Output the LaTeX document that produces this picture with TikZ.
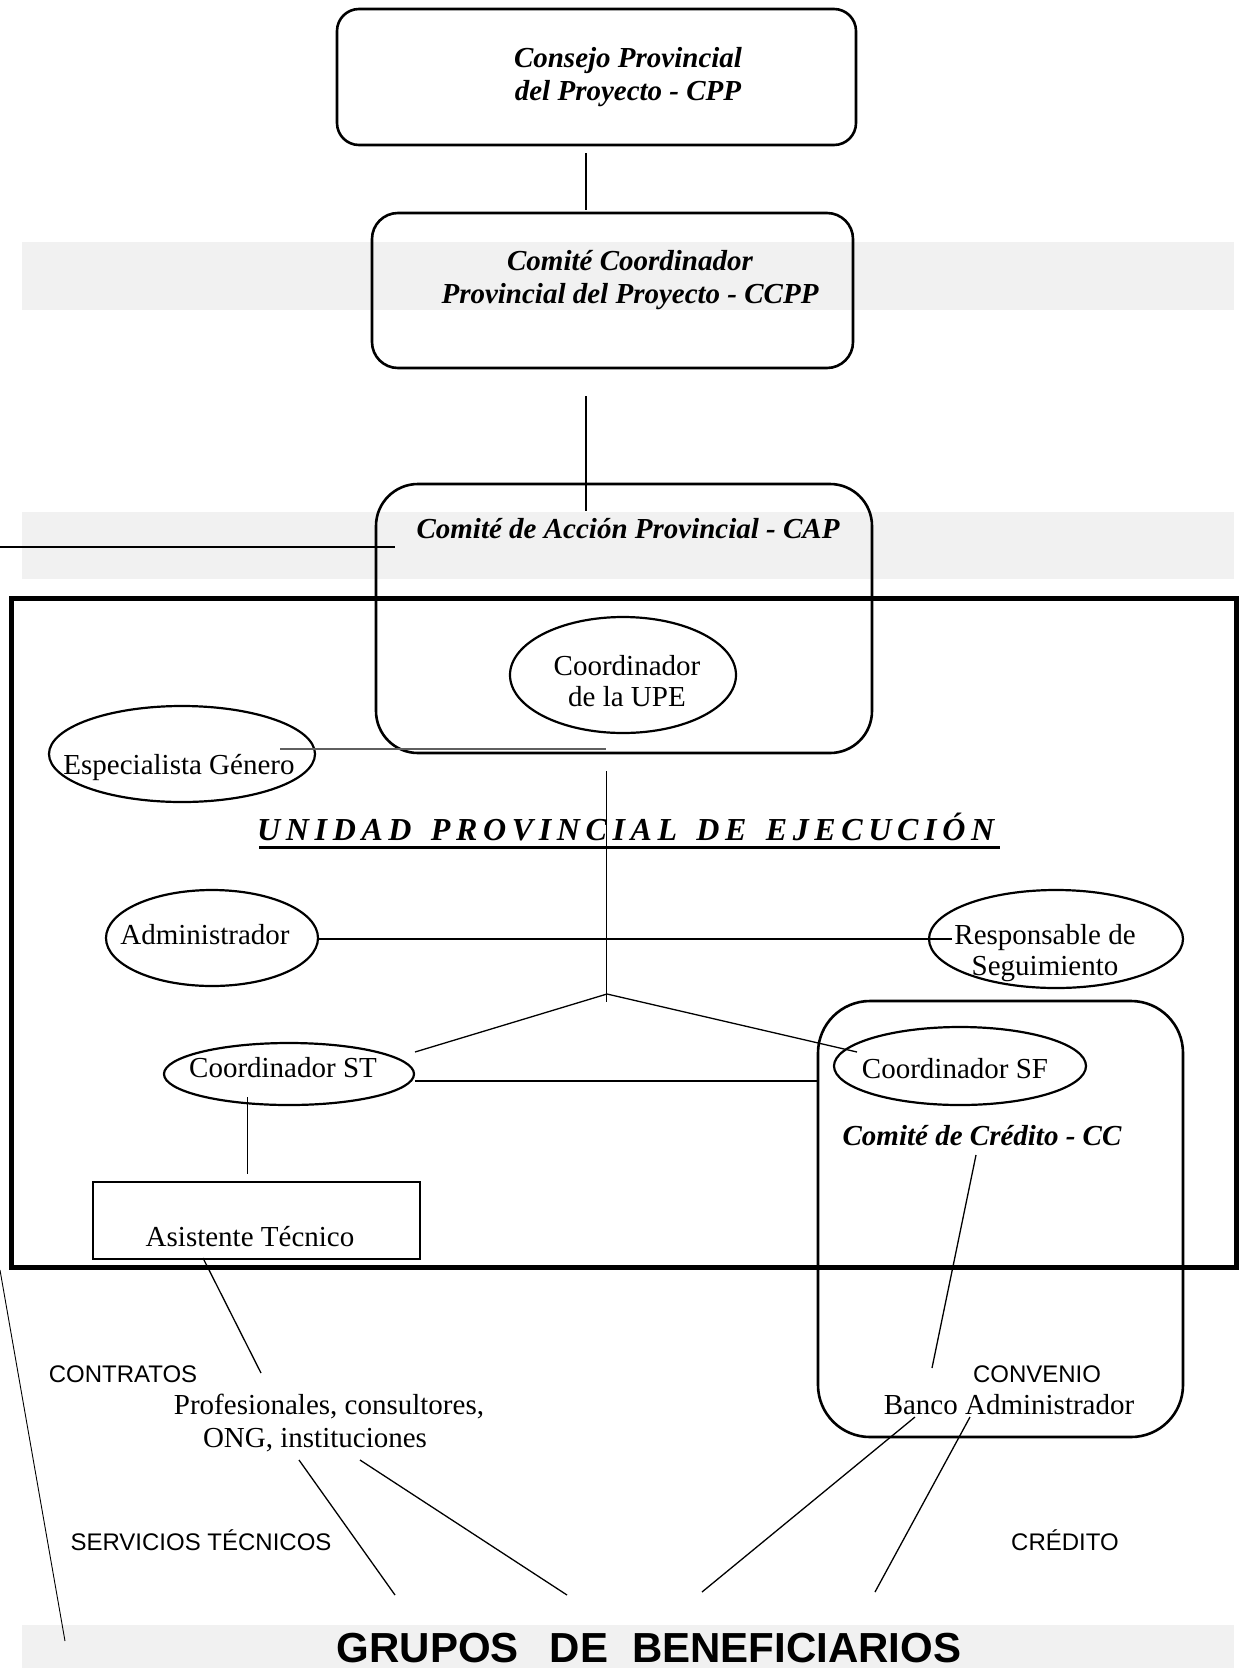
\documentclass[tikz,border=0pt]{standalone}
\usepackage{fontspec}
\setmainfont{Liberation Serif}
\newfontfamily\sansf{Liberation Sans}
\usetikzlibrary{shapes.geometric}
\definecolor{bandgray}{RGB}{241,241,241}
\definecolor{lgray}{RGB}{95,95,95}
\newcommand{\wgap}{\hskip 8pt plus 2fil\relax}
\begin{document}
\begin{tikzpicture}[x=1pt,y=-1pt,
 conn/.style={line width=1.3pt},
 thinconn/.style={line width=0.9pt},
 rbox/.style={draw, line width=2.6pt, inner sep=0pt, outer sep=0pt},
 oval/.style={draw, ellipse, line width=2.2pt, inner sep=0pt, outer sep=0pt},
 bi/.style={font=\fontsize{29}{33}\selectfont\bfseries\itshape, inner sep=0pt, anchor=base, align=center},
 rmt/.style={font=\fontsize{29}{31}\selectfont, inner sep=0pt, anchor=base, align=center},
 sft/.style={font=\fontsize{24}{28}\selectfont\sansf, inner sep=0pt, anchor=base},
]
\useasboundingbox (0,0) rectangle (1239,1668);
% background bands
\fill[bandgray] (22,242) rectangle (1234,310);
\fill[bandgray] (22,512) rectangle (1234,579);
\fill[bandgray] (22,1625) rectangle (1234,1668);

% boxes
\node[rbox, rounded corners=22pt, minimum width=519pt, minimum height=136pt] (cpp) at (596.5,77) {};
\node[rbox, rounded corners=26pt, minimum width=481pt, minimum height=155pt] (ccpp) at (612.5,290.5) {};
\node[rbox, rounded corners=42pt, minimum width=496pt, minimum height=269pt] (cap) at (624,618.5) {};
\node[draw, line width=5pt, inner sep=0pt, minimum width=1225pt, minimum height=669pt] (upe) at (623.5,932.5) {};
\node[rbox, rounded corners=52pt, minimum width=365pt, minimum height=436pt] (cc) at (1000.5,1219) {};
\node[rbox, minimum width=327pt, minimum height=77pt] (asist) at (256.5,1220.5) {};

% ellipses
\node[oval, minimum width=226pt, minimum height=116pt] (upeE) at (623,675) {};
\node[oval, minimum width=266pt, minimum height=96pt] (genE) at (182,754) {};
\node[oval, minimum width=212pt, minimum height=96pt] (admE) at (212,938) {};
\node[oval, minimum width=254pt, minimum height=98pt] (resE) at (1056,939) {};
\node[oval, minimum width=250pt, minimum height=62pt] (stE) at (289,1074) {};
\node[oval, minimum width=252pt, minimum height=78pt] (sfE) at (960,1066) {};

% texts (multi-line nodes: base = baseline of last line)
\node[bi] (cppT) at (628,100) {Consejo Provincial\\del Proyecto - CPP};
\node[bi] (ccppT) at (630,303) {Comité Coordinador\\Provincial del Proyecto - CCPP};
\node[bi] (capT) at (628,538) {Comité de Acción Provincial - CAP};
\node[rmt] (upeT) at (627,706) {Coordinador\\de la UPE};
\node[rmt] (genT) at (179,774) {Especialista Género};
\node[rmt] (admT) at (205,944) {Administrador};
\node[rmt] (resT) at (1045,975) {Responsable de\\Seguimiento};
\node[rmt] (stT) at (283,1077) {Coordinador ST};
\node[rmt] (sfT) at (955,1078) {Coordinador SF};
\node[bi] (ccT) at (982,1145) {Comité de Crédito - CC};
\node[rmt] (asT) at (250,1246) {Asistente Técnico};
\node[sft] (contratosT) at (123,1382) {CONTRATOS};
\node[sft] (convenioT) at (1037,1382) {CONVENIO};
\node[rmt] (profT) at (329,1414) {Profesionales, consultores,};
\node[rmt] (ongT) at (315,1447) {ONG, instituciones};
\node[rmt] (bancoT) at (1009,1414) {Banco Administrador};
\node[sft] (servT) at (201,1550) {SERVICIOS TÉCNICOS};
\node[sft] (creditoT) at (1065,1550) {CRÉDITO};
\node[inner sep=0pt, anchor=base, font=\fontsize{42}{46}\selectfont\sansf\bfseries] (gruposT) at (649,1662)
 {GRUPOS\hspace{31pt}DE\hspace{24pt}BENEFICIARIOS};
\node[inner sep=0pt, anchor=base west, font=\fontsize{32}{34}\selectfont\bfseries\itshape] (upeTitle) at (257,840)
 {\makebox[737pt][s]{U\hfil N\hfil I\hfil D\hfil A\hfil D\wgap P\hfil R\hfil O\hfil V\hfil I\hfil N\hfil C\hfil I\hfil A\hfil L\wgap D\hfil E\wgap E\hfil J\hfil E\hfil C\hfil U\hfil C\hfil I\hfil Ó\hfil N}};
\draw[line width=3pt] (259,847.5) -- (1000,847.5);

% connector end points
\coordinate (a1) at (586,153);
\coordinate (a2) at (586,210);
\coordinate (b1) at (586,396);
\coordinate (b2) at (586,511);
\coordinate (c1) at (0,547);
\coordinate (c2) at (395,547);
\coordinate (g1) at (280,749);
\coordinate (g2) at (606,749);
\coordinate (v1) at (606,771);
\coordinate (v2) at (606,1002);
\coordinate (vx) at (607,994);
\coordinate (stR) at (415,1052);
\coordinate (sfL) at (857,1052);
\coordinate (ad1) at (318,939);
\coordinate (ad2) at (952,939);
\coordinate (st1) at (415,1081);
\coordinate (st2) at (818,1081);
\coordinate (cc1) at (976,1155);
\coordinate (cc2) at (932,1368);
\coordinate (sa1) at (247,1097);
\coordinate (sa2) at (247,1174);
\coordinate (as1) at (203,1258);
\coordinate (as2) at (261,1373);
\coordinate (ld1) at (0,1270);
\coordinate (ld2) at (65,1641);
\coordinate (p1) at (299,1460);
\coordinate (p2) at (395,1595);
\coordinate (q1) at (360,1460);
\coordinate (q2) at (567,1595);
\coordinate (r1) at (915,1417);
\coordinate (r2) at (702,1592);
\coordinate (s1) at (970,1417);
\coordinate (s2) at (875,1592);

% connectors
\draw[conn] (a1) -- (a2);
\draw[conn] (b1) -- (b2);
\draw[conn] (c1) -- (c2);
\draw[line width=1.8pt, lgray] (g1) -- (g2);
\draw[thinconn] (v1) -- (v2);
\draw[conn] (stR) -- (vx) -- (sfL);
\draw[conn] (ad1) -- (ad2);
\draw[conn] (st1) -- (st2);
\draw[conn] (cc1) -- (cc2);
\draw[thinconn] (sa1) -- (sa2);
\draw[conn] (as1) -- (as2);
\draw[thinconn] (ld1) -- (ld2);
\draw[conn] (p1) -- (p2);
\draw[conn] (q1) -- (q2);
\draw[conn] (r1) -- (r2);
\draw[conn] (s1) -- (s2);
\end{tikzpicture}
\end{document}
